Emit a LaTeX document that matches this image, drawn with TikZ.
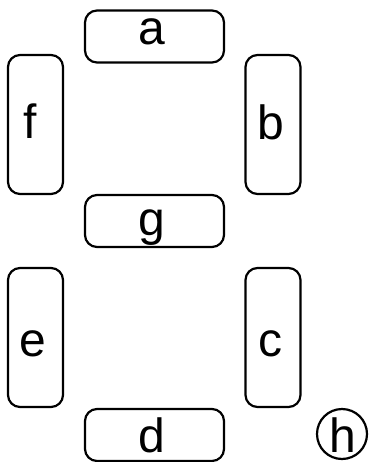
\documentclass[tikz,border=0pt]{standalone}
\usepackage{fontspec}
\setmainfont{Liberation Sans}
\begin{document}
\begin{tikzpicture}[x=1pt,y=-1pt,
  seg/.style={draw=black, line width=2.2pt, rounded corners=12pt, inner sep=0pt},
  hseg/.style={seg, minimum width=139pt, minimum height=52pt},
  vseg/.style={seg, minimum width=55pt, minimum height=139pt},
  dot/.style={draw=black, line width=2.2pt, circle, minimum size=50pt, inner sep=0pt},
  lbl/.style={anchor=base, inner sep=0pt, font=\fontsize{48}{48}\selectfont}]
\useasboundingbox (0,0) rectangle (372,462);
\node[hseg] (a) at (154.5,36.5) {};
\node[vseg] (f) at (35.5,124.5) {};
\node[vseg] (b) at (273,124.5) {};
\node[hseg] (g) at (154.5,221) {};
\node[vseg] (e) at (35.5,337.5) {};
\node[vseg] (c) at (273,337.5) {};
\node[hseg] (d) at (154.5,435) {};
\node[dot] (h) at (342,434) {};
\node[lbl] (la) at (152,45) {a};
\node[lbl] (lf) at (30,139) {f};
\node[lbl] (lb) at (271,140) {b};
\node[lbl] (lg) at (152,235) {g};
\node[lbl] (le) at (32.5,356) {e};
\node[lbl] (lc) at (270,356) {c};
\node[lbl] (ld) at (152,452) {d};
\node[lbl] (lh) at (343,452) {h};
\end{tikzpicture}
\end{document}
